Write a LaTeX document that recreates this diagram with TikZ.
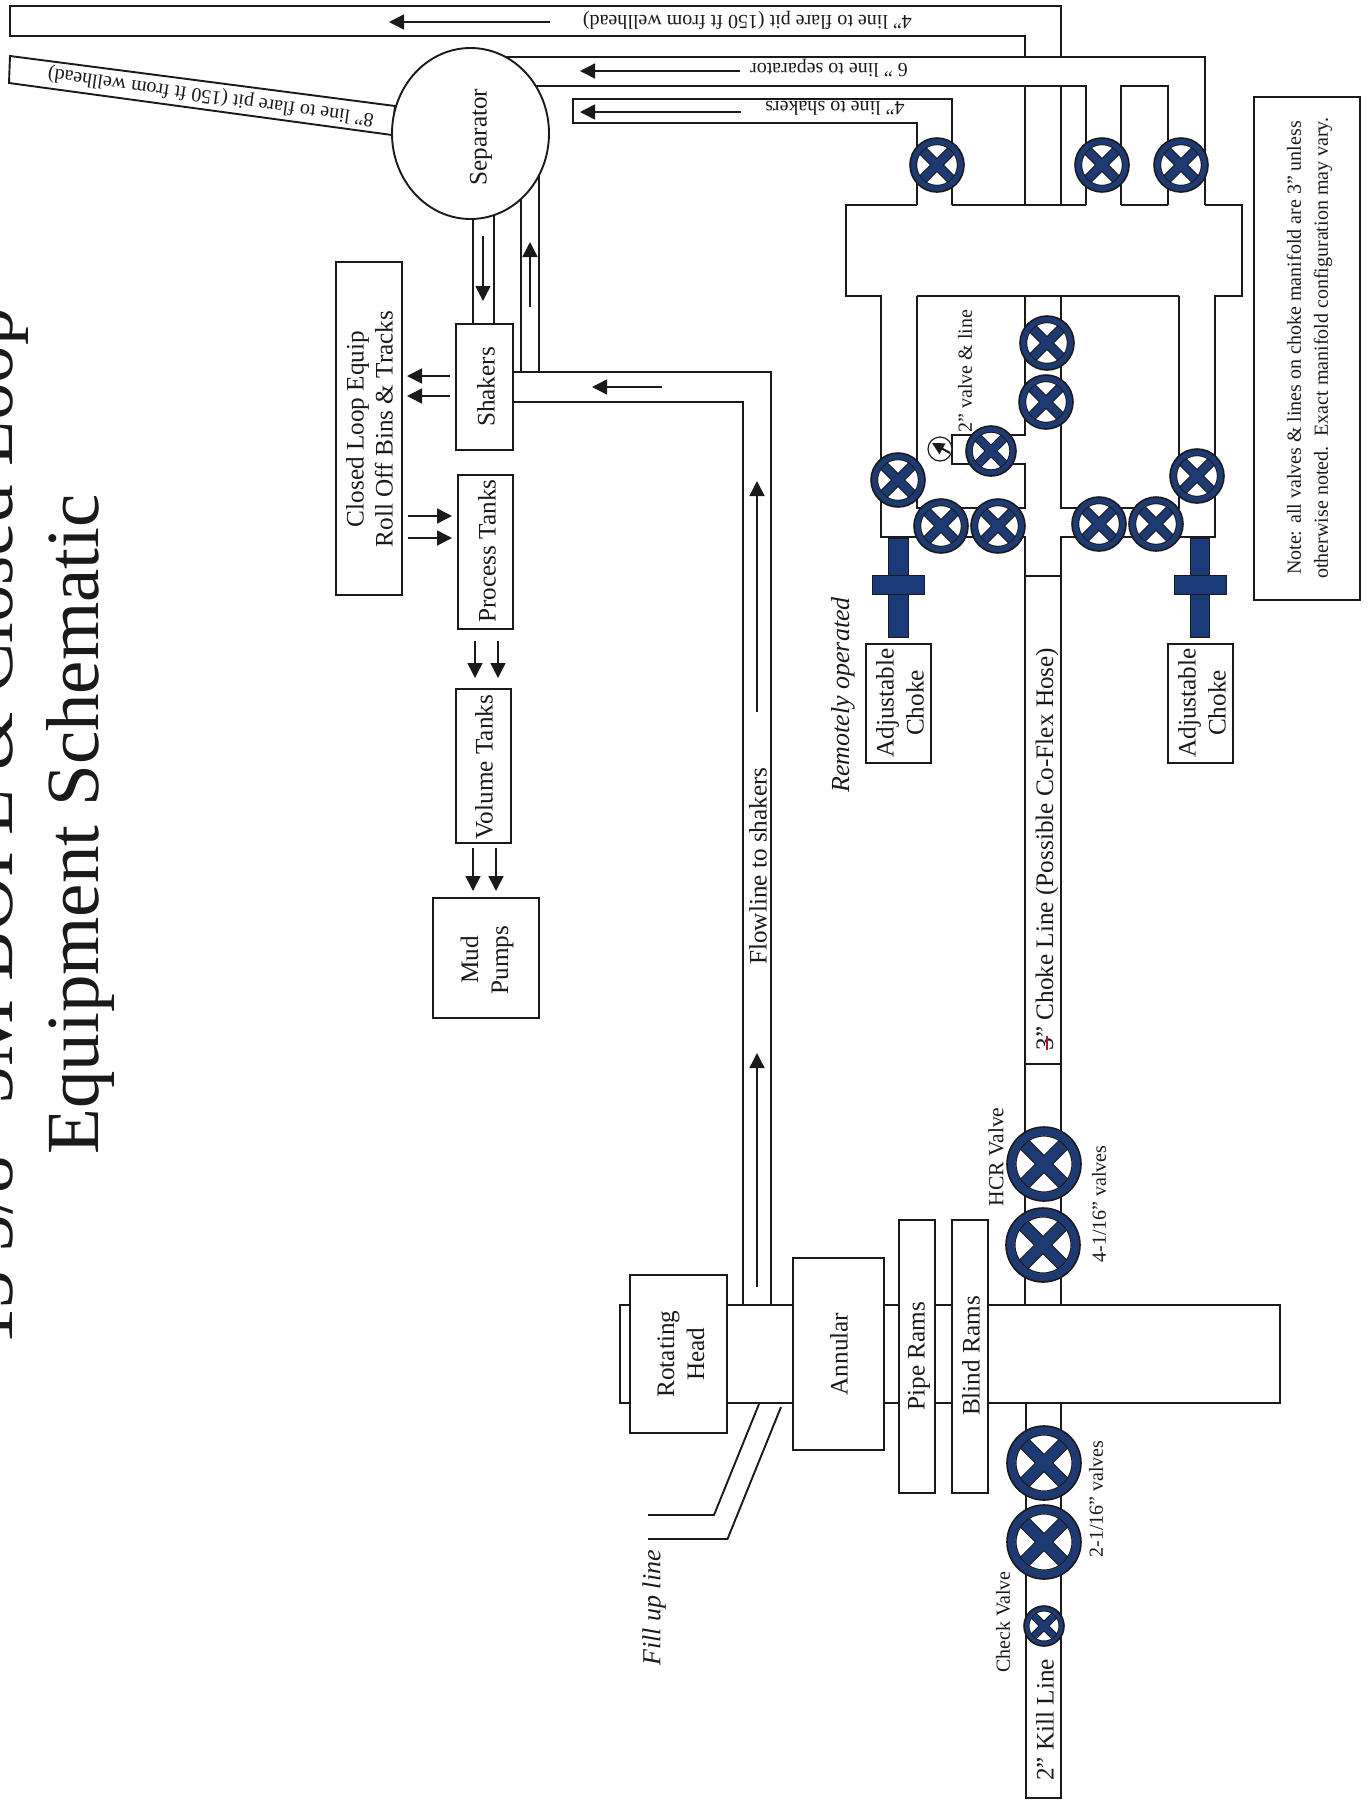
\documentclass[tikz,border=0pt]{standalone}
\usepackage{fontspec}
\setmainfont{Liberation Serif}
\usetikzlibrary{arrows.meta,shapes.geometric}
\definecolor{ink}{HTML}{1A1A1A}
\definecolor{valveblue}{HTML}{1D3A72}
\definecolor{chokeblue}{HTML}{1A3A78}
\definecolor{redmark}{HTML}{A01C28}
\tikzset{
  pipe/.style={draw=ink,fill=white,line width=0.95pt,line join=miter},
  pipeline/.style={draw=ink,line width=0.95pt,line join=miter},
  boxnode/.style={draw=ink,fill=white,line width=0.95pt,inner sep=0pt,rectangle},
  flow/.style={draw=ink,line width=0.75pt,-{Triangle[length=7.5pt,width=7.5pt]}},
  vt/.style={rotate=90,inner sep=0pt,text=ink,align=center},
  ut/.style={rotate=180,inner sep=0pt,text=ink},
  big/.style={font=\fontsize{12.6}{15}\selectfont},
  small/.style={font=\fontsize{10}{13.5}\selectfont},
  tit/.style={rotate=90,inner sep=0pt,text=ink,font=\fontsize{37.5}{45}\selectfont},
}
\newcommand{\vlv}[4]{%
  \begin{scope}[shift={(#2,#3)}]
    \fill[white] (0,0) circle[radius=#4*0.9];
    \foreach \sa/\sb in {1/1,1/-1}{
      \draw[ink,line width=#4*0.15pt+1pt] ({-0.62*#4*\sa},{-0.62*#4*\sb}) -- ({0.62*#4*\sa},{0.62*#4*\sb});
    }
    \foreach \sa/\sb in {1/1,1/-1}{
      \draw[valveblue,line width=#4*0.15pt] ({-0.62*#4*\sa},{-0.62*#4*\sb}) -- ({0.62*#4*\sa},{0.62*#4*\sb});
    }
    \draw[ink,line width=0.7pt] (0,0) circle[radius=#4*0.76];
    \draw[valveblue,line width=#4*0.115pt] (0,0) circle[radius=#4*0.885];
  \end{scope}
  \node[circle,draw=ink,line width=0.8pt,minimum size=#4pt,inner sep=0pt] (#1) at (#2,#3) {};
}
\newcommand{\flowarrow}[5]{%
  \coordinate (#1-a) at (#2,#3);
  \coordinate (#1-b) at (#4,#5);
  \draw[flow] (#1-a) -- (#1-b);
}
\newcommand{\boxat}[6]{%
  \node[boxnode,minimum width={(#4-#2)*0.5pt},minimum height={(#5-#3)*0.5pt}] (#1) at ({(#2+#4)/2},{(#3+#5)/2}) {#6};
}
\begin{document}
\begin{tikzpicture}[x=0.5pt,y=-0.5pt]
\useasboundingbox (0,0) rectangle (1369,1800);
\fill[white] (0,0) rectangle (1369,1800);

% titles
\node[tit,anchor=base east] (title1) at (12,308) {13 5/8” 5M BOPE \& Closed Loop};
\node[tit,anchor=base west] (title2) at (98,1155) {Equipment Schematic};

% lines out of the manifold
\path[pipe] (10,6) -- (1061,6) -- (1061,205) -- (1025,205) -- (1025,36) -- (10,36) -- cycle;
\path[pipe] (10,56) -- (395,106) -- (392,135) -- (9,83) -- cycle;
\fill[white] (470,57) -- (1205,57) -- (1205,205) -- (1168,205) -- (1168,86) -- (1121,86) -- (1121,205) -- (1086,205) -- (1086,86) -- (470,86) -- cycle;
\draw[pipeline] (470,57) -- (1205,57) -- (1205,205);
\draw[pipeline] (470,86) -- (1086,86) -- (1086,205);
\draw[pipeline] (1121,205) -- (1121,86) -- (1168,86) -- (1168,205);
\fill[white] (573,99) -- (952,99) -- (952,205) -- (917,205) -- (917,123) -- (573,123) -- cycle;
\draw[pipeline] (917,205) -- (917,123) -- (573,123) -- (573,99) -- (952,99) -- (952,205);

% manifold
\draw[pipeline] (917,205) -- (846,205) -- (846,296) -- (881,296) -- (881,537) -- (1025,537) -- (1025,1305);
\draw[pipeline] (952,205) -- (1086,205);
\draw[pipeline] (1121,205) -- (1168,205);
\draw[pipeline] (1205,205) -- (1242,205) -- (1242,296) -- (1215,296) -- (1215,537) -- (1061,537) -- (1061,1305);
\draw[pipeline] (917,296) -- (1179,296);
\draw[pipeline] (917,296) -- (917,508) -- (1025,508) -- (1025,464) -- (952,464) -- (952,435) -- (1025,435) -- (1025,296);
\draw[pipeline] (1061,296) -- (1061,508) -- (1179,508) -- (1179,296);
\draw[pipeline] (1025,576) -- (1061,576);
\draw[pipeline] (1025,1064) -- (1061,1064);

% kill line and stack
\path[pipe] (1026,1403) rectangle (1061,1798);
\path[pipe] (620,1305) rectangle (1280,1403);

% flowline, fill up line
\draw[pipeline] (513,372) -- (771,372) -- (771,1305);
\draw[pipeline] (513,402) -- (743,402) -- (743,1305);
\draw[pipeline] (521,190) -- (521,372);
\draw[pipeline] (539,170) -- (539,372);
\draw[pipeline] (473,200) -- (473,324);
\draw[pipeline] (494,200) -- (494,324);
\draw[pipeline] (759,1404) -- (714,1515) -- (648,1515);
\draw[pipeline] (781,1407) -- (727.5,1539) -- (648,1539);

% separator
\node[ellipse,draw=ink,fill=white,line width=0.95pt,inner sep=0pt,minimum width=78.5pt,minimum height=85.5pt] (sep) at (470.5,133.5) {};
\node[vt,big] (septext) at (481,137) {Separator};

% boxes
\boxat{shakers}{456}{324}{513}{450}{}
\boxat{closed}{336}{262}{402}{595}{}
\boxat{process}{458}{475}{513}{629}{}
\boxat{volume}{456}{689}{511}{843}{}
\boxat{mud}{433}{898}{539}{1018}{}
\boxat{head}{630}{1275}{727}{1433}{}
\boxat{annular}{793}{1258}{884}{1450}{}
\boxat{piperams}{899}{1220}{935}{1493}{}
\boxat{blindrams}{952}{1220}{988}{1493}{}
\boxat{choke1}{866}{644}{931}{763}{}
\boxat{choke2}{1168}{644}{1233}{763}{}
\boxat{note}{1254}{97}{1360}{600}{}

\node[vt,big] (shakerstext) at (486,387) {Shakers};
\node[vt,big,font=\fontsize{12.6}{14.5}\selectfont] (closedtext) at (369.5,429) {Closed Loop Equip\\Roll Off Bins \& Tracks};
\node[vt,big] (processtext) at (487,551) {Process Tanks};
\node[vt,big] (volumetext) at (484,767) {Volume Tanks};
\node[vt,big] (mudtext) at (487,960) {Mud\\Pumps};
\node[vt,big] (headtext) at (681,1354) {Rotating\\Head};
\node[vt,big] (annulartext) at (839,1354) {Annular};
\node[vt,big] (pipetext) at (919,1356) {Pipe Rams};
\node[vt,big] (blindtext) at (971,1356) {Blind Rams};
\node[vt,big] (choke1text) at (900,703) {Adjustable\\Choke};
\node[vt,big] (choke2text) at (1202,703) {Adjustable\\Choke};
\node[vt,small] (notetext) at (1309.5,348) {Note: all valves \& lines on choke manifold are 3” unless\\otherwise noted.\ \ Exact manifold configuration may vary.};

% choke stems
\path[draw=ink,fill=chokeblue,line width=0.4pt] (888,538) rectangle (908,637);
\path[draw=ink,fill=chokeblue,line width=0.4pt] (872,575) rectangle (924,594);
\path[draw=ink,fill=chokeblue,line width=0.4pt] (1190,538) rectangle (1209,637);
\path[draw=ink,fill=chokeblue,line width=0.4pt] (1174,575) rectangle (1226,594);

% valves
\vlv{vA}{937}{165}{27}
\vlv{vB}{1102}{165}{27}
\vlv{vC}{1181}{165}{27}
\vlv{vD}{1047}{343}{27}
\vlv{vE}{1046}{402}{27}
\vlv{vF}{991}{451}{25}
\vlv{vG}{898}{480}{27}
\vlv{vH}{941}{526}{27}
\vlv{vI}{998}{526}{27}
\vlv{vJ}{1099}{524}{27}
\vlv{vK}{1156}{524}{27}
\vlv{vL}{1197}{476}{27}
\vlv{vM}{1044}{1164}{37}
\vlv{vN}{1043}{1245}{37}
\vlv{vO}{1044}{1463}{37}
\vlv{vP}{1044}{1542}{37}
\vlv{vQ}{1044}{1626}{20}

% gauge
\node[circle,draw=ink,fill=white,line width=0.6pt,minimum size=12pt,inner sep=0pt] (gauge) at (940,449) {};
\coordinate (gauge-a) at (950,453);
\coordinate (gauge-b) at (932,443);
\draw[ink,line width=1pt,-{Triangle[length=6pt,width=6pt]}] (gauge-a) -- (gauge-b);

% arrows
\flowarrow{a1}{550}{22}{389}{22}
\flowarrow{a2}{740}{71}{580}{71}
\flowarrow{a3}{741}{112}{580}{112}
\flowarrow{a4}{483}{236}{483}{301}
\flowarrow{a5}{530}{307}{530}{242}
\flowarrow{a6}{662}{387}{592}{387}
\flowarrow{a7}{450}{376}{407}{376}
\flowarrow{a8}{450}{396}{407}{396}
\flowarrow{a9}{408}{516}{452}{516}
\flowarrow{a10}{408}{538}{452}{538}
\flowarrow{a11}{475}{641}{475}{678}
\flowarrow{a12}{498}{641}{498}{678}
\flowarrow{a13}{473}{848}{473}{891}
\flowarrow{a14}{496}{848}{496}{891}
\flowarrow{a15}{757}{712}{757}{481}
\flowarrow{a16}{757}{1287}{757}{1053}

% labels
\node[ut,small] (t1) at (747.5,20) {4” line to flare pit (150 ft from wellhead)};
\node[ut,small] (t2) at (829,68) {6 ” line to separator};
\node[ut,small] (t3) at (835,108) {4” line to shakers};
\node[rotate=172,inner sep=0pt,text=ink,small] (t4) at (211,96) {8” line to flare pit (150 ft from wellhead)};
\node[vt,big] (t5) at (758,866) {Flowline to shakers};
\node[vt,font=\fontsize{13}{15}\selectfont\itshape] (t6) at (843,695) {Remotely operated};
\node[vt,font=\fontsize{13}{15}\selectfont\itshape] (t7) at (654,1608) {Fill up line};
\node[vt,small] (t8) at (965,371) {2” valve \& line};
\node[vt,big] (t9) at (1047,849) {3” Choke Line (Possible Co-Flex Hose)};
\coordinate (redA) at (1047,1036);
\coordinate (redB) at (1047,1050);
\draw[redmark,line width=0.7pt] (redA) -- (redB);
\node[vt,font=\fontsize{10.8}{13}\selectfont] (t10) at (996,1157) {HCR Valve};
\node[vt,small] (t11) at (1099,1204) {4-1/16” valves};
\node[vt,small] (t12) at (1096,1499) {2-1/16” valves};
\node[vt,small] (t13) at (1003,1622) {Check Valve};
\node[vt,big] (t14) at (1045,1720) {2” Kill Line};
\end{tikzpicture}
\end{document}
